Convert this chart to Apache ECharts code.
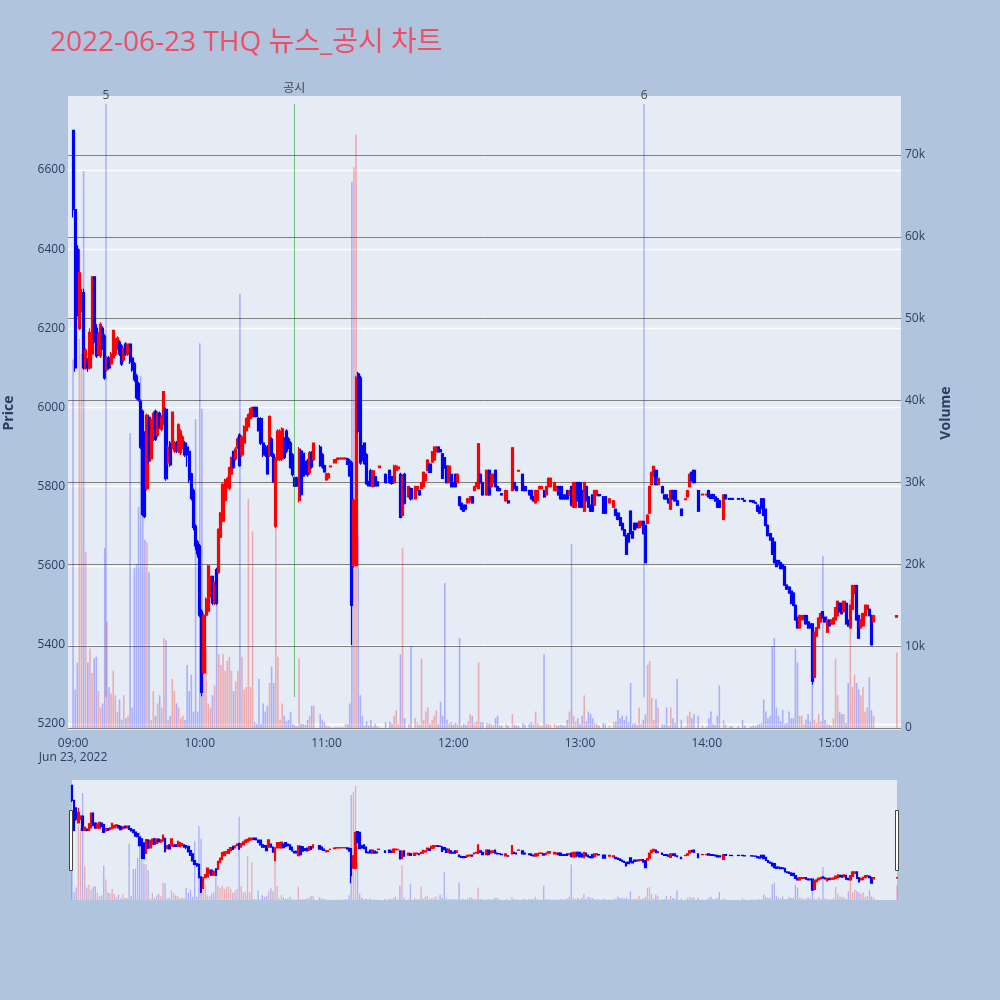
<!DOCTYPE html>
<html><head><meta charset="utf-8">
<script src="https://cdn.jsdelivr.net/npm/echarts@6/dist/echarts.min.js"></script>
<style>html,body{margin:0;padding:0;background:#B0C4DE}#c{width:1000px;height:1000px}</style>
</head><body><div id="c"></div><script>
// ---------------- DATA ----------------
const chartTitle = '2022-06-23 THQ 뉴스_공시 차트';
const sessionStart = '09:00';          // index 0 of the minute arrays
const dateLabel = 'Jun 23, 2022';
// one entry per minute from 09:00 to 15:30 (null = no trade)
const open = [
6700,6500,6400,6200,6250,6290,6100,6120,6100,6135,
6330,6200,6135,6130,6200,6180,6095,6125,6110,6125,
6135,6150,6165,6155,6120,6160,6135,6160,6125,6110,
6080,6060,6015,5990,5935,5795,5975,5870,5920,5990,
5930,5985,5945,5960,5995,5860,5910,5900,5890,5910,
5890,5885,5900,5910,5900,5889,5832,5790,5700,5660,
5650,5485,5330,5475,5485,5527,5573,5506,5590,5583,
5672,5713,5765,5800,5796,5832,5889,5870,5900,5930,
5880,5910,5941,5951,5972,5977,6000,6000,5972,5972,
5910,5900,5900,5880,5920,5880,5700,5868,5868,5870,
5920,5940,5920,5910,5880,5822,5822,5765,5890,5884,
5860,5865,5835,5885,5868,null,null,5900,5880,5853,
5817,5822,5850,null,5860,5868,5870,5870,5870,5870,
5870,5865,5860,5600,5600,6085,6075,5900,5910,5880,
5812,5840,5800,5825,5812,5848,null,null,5831,null,
5841,5825,5810,5841,5845,5831,5727,5831,null,5774,
5795,null,5769,5790,5790,5795,5800,5815,5841,5857,
5862,5867,5888,5900,5893,5883,5873,5852,5810,5831,
5810,5831,5810,5774,5758,5753,5753,5759,5764,5774,
5790,5800,5795,5831,5810,null,5779,5841,5800,5810,
5841,5800,5795,5782,null,5764,5764,null,5790,5810,
5800,5839,null,5831,5800,null,5790,5790,5774,5759,
5765,5795,5795,5790,5779,5800,5800,null,5790,5790,
5800,5800,5779,5779,5790,5779,5800,5748,5748,5810,
5810,5790,5738,5800,5774,5753,5779,5753,5779,5780,
null,5774,5774,null,5759,null,5748,5743,5733,5722,
5707,5691,5676,5681,5738,5686,5707,5707,5696,5702,
5712,5702,5707,5733,5805,5826,5841,5805,null,5800,
5779,5779,5769,5743,5790,5790,5764,null,5743,null,
5767,5774,5800,5836,5841,null,5790,null,5779,null,
5779,5790,5779,5780,5774,5769,5764,null,5717,5779,
null,5770,5770,null,null,5770,null,5770,5765,null,
null,5765,5764,5760,5753,5748,5769,5769,5743,5702,
5681,5670,5660,5613,5613,5608,5603,5598,5551,5546,
5536,5531,5500,5469,5443,5464,5464,5474,5458,5453,
5453,5318,5422,5443,5458,5484,5470,5432,5463,5453,
5453,5463,5474,5505,5505,5484,5505,5463,5443,5490,
5530,5550,5474,5443,5448,5474,5490,5490,5474,5458,
null,null,null,null,null,null,null,null,null,null,
5470];
const close = [
6500,6100,6250,6340,6290,6100,6145,6100,6190,6330,
6165,6130,6185,6210,6150,6075,6125,6100,6135,6195,
6170,6175,6135,6110,6150,6135,6160,6115,6095,6070,
6025,6020,5900,5730,5725,5980,5865,5970,5985,5920,
5985,5950,5975,6040,5820,5900,5855,5988,5910,5890,
5956,5940,5925,5880,5880,5817,5770,5697,5650,5630,
5475,5280,5475,5516,5600,5573,5506,5558,5505,5692,
5734,5806,5817,5820,5848,5874,5848,5895,5920,5853,
5925,5951,5972,5982,5998,6000,5977,5977,5941,5910,
5880,5880,5832,5977,5880,5812,5870,5940,5940,5946,
5874,5890,5900,5848,5830,5801,5801,5895,5780,5827,
5835,5830,5885,5850,5910,null,null,5853,5850,5837,
5832,5832,5852,null,5868,5872,5872,5872,5872,5872,
5856,5827,5500,5765,6075,5940,5860,5870,5858,5807,
5802,5802,5840,5802,5802,5852,null,null,5810,null,
5810,5808,5852,5852,5849,5722,5826,5758,null,5800,
5769,null,5800,5800,5779,5810,5836,5831,5867,5836,
5888,5900,5900,5888,5888,5821,5847,5810,5852,5800,
5800,5800,5831,5753,5743,5738,5743,5769,5774,5759,
5800,5810,5908,5810,5779,null,5841,5779,5831,5831,
5800,5790,5790,5779,null,5790,5759,null,5898,5795,
5790,5841,null,5790,5790,null,5779,5769,5764,5790,
5790,5800,5800,5774,5800,5821,5821,null,5810,5800,
5779,5769,5769,5769,5769,5790,5753,5810,5810,5764,
5748,5748,5810,5764,5748,5738,5738,5790,5790,5777,
null,5733,5733,null,5769,null,5764,5727,5717,5702,
5691,5676,5629,5660,5681,5670,5691,5696,5712,5712,
5681,5608,5728,5800,5836,5851,5805,5821,null,5784,
5769,5769,5759,5790,5769,5764,5753,null,5727,null,
5769,5790,5831,5815,5810,null,5738,null,5781,null,
5781,5774,5770,5770,5764,5748,5748,null,5779,5769,
null,5768,5768,null,null,5768,null,5768,5763,null,
null,5762,5760,5758,5738,5733,5745,5727,5702,5676,
5665,5629,5608,5598,5603,5593,5593,5551,5541,5531,
5505,5500,5463,5443,5474,5474,5474,5453,5443,5443,
5308,5432,5443,5468,5479,5468,5458,5463,5448,5463,
5468,5494,5510,5484,5479,5510,5453,5448,5500,5550,
5550,5463,5417,5463,5479,5500,5500,5474,5400,5474,
null,null,null,null,null,null,null,null,null,null,
5474];
const low = [
6480,6090,6230,6195,6240,6095,6095,6090,6095,6130,
6160,6125,6130,6125,6145,6070,6090,6095,6105,6120,
6130,6145,6130,6105,6115,6130,6130,6110,6090,6065,
6020,6015,5895,5725,5720,5790,5860,5865,5915,5915,
5925,5945,5940,5955,5815,5855,5850,5895,5885,5885,
5885,5880,5895,5875,5850,5810,5765,5690,5640,5620,
5470,5270,5325,5470,5480,5520,5500,5500,5500,5580,
5670,5710,5760,5795,5790,5830,5845,5865,5895,5850,
5875,5905,5940,5950,5970,5975,5975,5975,5940,5905,
5875,5875,5830,5875,5875,5810,5695,5865,5865,5865,
5870,5885,5895,5845,5825,5800,5800,5760,5775,5825,
5830,5825,5830,5845,5865,null,null,5850,5845,5835,
5815,5820,5850,null,5860,5868,5870,5870,5870,5870,
5855,5825,5400,5595,5600,5935,5855,5865,5855,5805,
5800,5800,5798,5800,5800,5848,null,null,5808,null,
5808,5805,5808,5840,5843,5720,5725,5755,null,5772,
5765,null,5767,5788,5777,5793,5798,5813,5839,5834,
5860,5865,5886,5886,5886,5819,5845,5808,5808,5798,
5798,5798,5808,5750,5740,5736,5741,5757,5762,5757,
5788,5798,5793,5808,5777,null,5777,5777,5798,5808,
5798,5788,5788,5777,null,5762,5757,null,5788,5793,
5788,5839,null,5788,5788,null,5777,5767,5762,5757,
5763,5793,5793,5772,5777,5798,5798,null,5788,5788,
5777,5767,5767,5767,5767,5777,5750,5746,5746,5762,
5746,5746,5736,5762,5746,5736,5736,5751,5777,5775,
null,5731,5731,null,5757,null,5746,5725,5715,5700,
5689,5674,5627,5658,5679,5668,5689,5694,5694,5700,
5679,5606,5705,5731,5803,5824,5803,5803,null,5782,
5767,5767,5757,5741,5767,5762,5751,null,5725,null,
5767,5772,5798,5813,5808,null,5736,null,5779,null,
5779,5772,5768,5768,5762,5746,5746,null,5715,5767,
null,5768,5768,null,null,5768,null,5768,5763,null,
null,5762,5760,5758,5736,5731,5743,5725,5700,5674,
5663,5627,5606,5596,5601,5591,5591,5549,5539,5529,
5503,5498,5461,5441,5441,5462,5462,5451,5441,5441,
5300,5316,5420,5441,5456,5466,5456,5430,5446,5451,
5451,5461,5472,5482,5477,5482,5451,5446,5441,5488,
5528,5461,5415,5441,5446,5472,5488,5472,5398,5456,
null,null,null,null,null,null,null,null,null,null,
5470];
const high = [
6700,6500,6410,6400,6300,6300,6150,6125,6200,6330,
6330,6210,6190,6215,6205,6185,6130,6130,6140,6195,
6175,6180,6170,6160,6150,6165,6160,6160,6130,6115,
6085,6065,6020,5995,5940,5985,5980,5975,5990,5995,
5990,5990,5980,6040,6000,5905,5915,5990,5915,5915,
5960,5945,5930,5915,5905,5890,5835,5795,5705,5665,
5655,5490,5480,5520,5600,5575,5575,5560,5595,5695,
5735,5810,5820,5825,5850,5875,5890,5900,5925,5935,
5930,5955,5975,5985,6000,6000,6000,6000,5975,5975,
5915,5905,5905,5980,5925,5885,5875,5945,5945,5950,
5925,5945,5925,5915,5885,5825,5825,5900,5895,5885,
5865,5870,5890,5890,5910,null,null,5905,5885,5855,
5835,5835,5852,null,5868,5872,5872,5872,5872,5872,
5872,5870,5865,5770,6080,6090,6080,5905,5910,5885,
5815,5845,5842,5828,5815,5852,null,null,5833,null,
5843,5827,5855,5855,5850,5835,5830,5835,null,5802,
5798,null,5802,5802,5792,5812,5838,5833,5869,5859,
5890,5902,5902,5902,5895,5885,5875,5854,5854,5833,
5812,5833,5833,5776,5760,5755,5755,5771,5776,5776,
5802,5812,5910,5833,5812,null,5843,5843,5833,5833,
5843,5802,5797,5784,null,5792,5766,null,5900,5812,
5802,5841,null,5833,5802,null,5792,5792,5776,5792,
5792,5802,5802,5792,5802,5823,5823,null,5812,5802,
5802,5802,5781,5781,5792,5792,5802,5812,5812,5812,
5812,5792,5812,5802,5776,5755,5781,5792,5792,5782,
null,5776,5776,null,5771,null,5766,5745,5735,5724,
5709,5693,5678,5683,5740,5688,5709,5709,5714,5714,
5714,5704,5730,5802,5838,5853,5843,5823,null,5802,
5781,5781,5771,5792,5792,5792,5766,null,5745,null,
5769,5792,5833,5838,5843,null,5792,null,5781,null,
5781,5792,5781,5782,5776,5771,5766,null,5781,5781,
null,5770,5770,null,null,5770,null,5770,5765,null,
null,5765,5764,5760,5755,5750,5771,5771,5745,5704,
5683,5672,5662,5615,5615,5610,5605,5600,5553,5548,
5538,5533,5502,5471,5476,5476,5476,5476,5460,5455,
5455,5434,5445,5470,5481,5486,5472,5465,5465,5465,
5470,5496,5512,5507,5507,5512,5507,5465,5502,5552,
5552,5552,5476,5465,5481,5502,5502,5492,5476,5476,
null,null,null,null,null,null,null,null,null,null,
5474];
const volume = [
45000,4700,8000,47500,45700,68000,21500,8000,9700,6700,
8500,8700,4500,2500,3000,22000,13000,5000,4200,7000,
4000,2000,3500,1000,4000,1200,1500,36000,2500,19500,
20000,27000,43000,26000,23000,22700,19000,1000,4500,1500,
3000,4000,2500,11000,10700,1000,1500,6000,4500,3000,
2500,1200,1500,1000,7700,4500,6500,2000,37700,2000,
47000,39000,9700,9700,3000,2500,4000,5200,15000,9000,
7700,9000,7000,8200,8700,7000,4500,5700,7000,53000,
8700,4700,5000,28000,5000,24000,700,500,6000,500,
3000,2000,2700,5500,7500,5500,24500,8700,1000,3000,
1500,800,1000,2000,500,300,200,8500,500,500,
400,1000,1500,2700,2700,null,null,1700,1000,700,
300,200,100,null,100,100,100,100,100,500,
500,3000,66700,68500,72500,23500,4000,1500,300,800,
300,1000,200,500,200,100,null,null,700,null,
800,500,1500,2200,500,9000,22000,1200,null,500,
10000,null,1200,700,400,8500,1000,2000,2500,500,
1000,1500,2200,500,3200,1500,17700,1000,500,700,
400,600,500,11000,300,500,400,800,1700,1500,
600,800,8000,700,700,null,600,500,500,400,
1200,1500,300,300,null,500,300,null,1700,400,
300,200,null,600,400,null,500,700,400,2000,
600,300,300,9000,500,500,400,null,500,300,
300,400,300,300,1000,2000,22500,1500,800,1200,
500,1500,4000,800,2000,1700,1200,600,500,300,
null,600,500,null,300,null,700,800,2200,1200,
1500,1000,1500,700,5500,500,600,400,2500,500,
1000,1700,7700,8200,3700,1000,3500,2500,null,500,
400,2500,300,2500,1200,600,6000,null,1000,null,
200,1500,2000,1200,1700,null,1500,null,300,null,
200,1200,2000,500,400,1500,5200,null,1000,400,
null,200,200,null,null,200,null,1000,300,null,
null,200,300,200,400,500,600,3500,2000,1200,
1500,10000,11000,2500,1500,800,2200,500,600,2000,
1200,1200,9700,8000,1500,1500,500,1000,1700,800,
5500,1000,600,1700,800,21000,1000,500,400,300,
1200,8500,4000,2000,1700,1700,600,5500,15700,5000,
6500,5500,4700,4000,5000,2000,2500,6200,2200,1500,
null,null,null,null,null,null,null,null,null,null,
9200];
const priceTicks = [5200, 5400, 5600, 5800, 6000, 6200, 6400, 6600];
const volumeTicks = [0, 10000, 20000, 30000, 40000, 50000, 60000, 70000];
const timeTicks = ['09:00', '10:00', '11:00', '12:00', '13:00', '14:00', '15:00'];
const newsTimes = ['09:15:36', '10:44:42', '13:30:24'];
const newsLabels = ['5', '공시', '6'];
const newsKinds = ['news', 'disclosure', 'news'];

// ---------------- HELPERS ----------------
function toMin(s) {
  const p = s.split(':').map(Number);
  const b = sessionStart.split(':').map(Number);
  return (p[0] * 60 + p[1] + (p[2] || 0) / 60) - (b[0] * 60 + b[1]);
}
function fmtMin(v) {
  const b = sessionStart.split(':').map(Number);
  const t = Math.round(v + b[0] * 60 + b[1]);
  return String(Math.floor(t / 60)).padStart(2, '0') + ':' + String(t % 60).padStart(2, '0');
}
const UP = '#ff0000', DOWN = '#0000ff';
const UP_VOL = 'rgba(255,0,0,0.28)', DOWN_VOL = 'rgba(0,0,255,0.26)';
const FONT = '"Open Sans","Noto Sans CJK KR",sans-serif';
const TXT = '#2a3f5f';

const candleData = [], volData = [];
for (let i = 0; i < open.length; i++) {
  if (open[i] == null) continue;
  candleData.push([i, open[i], close[i], low[i], high[i]]);
  volData.push({ value: [i, volume[i]], itemStyle: { color: close[i] >= open[i] ? UP_VOL : DOWN_VOL } });
}
const tickMins = timeTicks.map(toMin);
const newsLines = newsTimes.map((t, k) => {
  const m = toMin(t);
  const isDisc = newsKinds[k] === 'disclosure';
  return [
    { coord: [m, 5268], lineStyle: { color: isDisc ? 'rgba(0,140,0,0.5)' : 'rgba(40,70,235,0.33)', width: isDisc ? 1 : 1.5, type: 'solid' },
      label: { show: true, position: 'end', formatter: newsLabels[k], color: '#444', fontSize: 12, fontFamily: FONT, distance: isDisc ? 9 : 2 } },
    { coord: [m, 6767] }
  ];
});

const chart = echarts.init(document.getElementById('c'), null, { renderer: 'canvas' });
chart.setOption({
  animation: false,
  backgroundColor: '#B0C4DE',
  textStyle: { fontFamily: FONT },
  title: {
    text: chartTitle, left: 45, top: 24,
    textStyle: { fontSize: 28, fontWeight: 'normal', color: '#EF4E65', fontFamily: FONT }
  },
  grid: [
    { left: 68, top: 96, width: 833, height: 634, show: true, backgroundColor: '#E5ECF6', borderWidth: 0, containLabel: false, outerBoundsMode: 'none' },
    { left: 72, top: 780, width: 825, height: 120, show: true, backgroundColor: '#E5ECF6', borderWidth: 0, containLabel: false, outerBoundsMode: 'none' }
  ],
  xAxis: [
    { type: 'value', gridIndex: 0, min: -2.4, max: 392,
      axisLine: { show: false }, axisTick: { show: false, customValues: tickMins },
      splitLine: { show: false },
      axisLabel: { customValues: tickMins, color: TXT, fontSize: 12, margin: 7, lineHeight: 14,
        formatter: v => Math.abs(v) < 0.01 ? fmtMin(v) + '\n' + dateLabel : fmtMin(v) } },
    { type: 'value', gridIndex: 1, min: 0, max: 390, show: false }
  ],
  yAxis: [
    { type: 'value', gridIndex: 0, min: 5185, max: 6787, position: 'left',
      name: 'Price', nameLocation: 'middle', nameGap: 52, nameRotate: 90,
      nameTextStyle: { fontSize: 14, fontWeight: 'bold', color: TXT },
      axisLine: { show: false }, axisTick: { show: false, customValues: priceTicks },
      axisLabel: { customValues: priceTicks, color: TXT, fontSize: 12, margin: 3, formatter: v => String(v) },
      splitLine: { show: true, lineStyle: { color: '#ffffff', width: 1.3 } } },
    { type: 'value', gridIndex: 0, min: -250, max: 77200, position: 'right',
      name: 'Volume', nameLocation: 'middle', nameGap: 38, nameRotate: 90,
      nameTextStyle: { fontSize: 14, fontWeight: 'bold', color: TXT },
      axisLine: { show: false }, axisTick: { show: false, customValues: volumeTicks },
      axisLabel: { customValues: volumeTicks, color: TXT, fontSize: 12, margin: 4,
        formatter: v => v === 0 ? '0' : (v / 1000) + 'k' },
      splitLine: { show: true, lineStyle: { color: '#808080', width: 1 } } },
    { type: 'value', gridIndex: 1, min: 5177, max: 6771, show: false, splitLine: { show: false } },
    { type: 'value', gridIndex: 1, min: 0, max: 76300, show: false, splitLine: { show: false } }
  ],
  series: [
    { name: 'vol', type: 'bar', xAxisIndex: 0, yAxisIndex: 1, data: volData, barWidth: 1.6, z: 1 },
    { name: 'price', type: 'candlestick', xAxisIndex: 0, yAxisIndex: 0, data: candleData,
      encode: { x: 0, y: [1, 2, 3, 4] }, barWidth: 2.6, z: 3,
      itemStyle: { color: UP, color0: DOWN, borderColor: UP, borderColor0: DOWN, borderWidth: 1.2 },
      markLine: { silent: true, symbol: ['none', 'none'], z: 5, data: newsLines } },
    { name: 'vol-mini', type: 'bar', xAxisIndex: 1, yAxisIndex: 3, data: volData, barWidth: 1.3, z: 1 },
    { name: 'price-mini', type: 'candlestick', xAxisIndex: 1, yAxisIndex: 2, data: candleData,
      encode: { x: 0, y: [1, 2, 3, 4] }, barWidth: 2, z: 3,
      itemStyle: { color: UP, color0: DOWN, borderColor: UP, borderColor0: DOWN, borderWidth: 1.2 } }
  ],
  graphic: [
    { type: 'rect', shape: { x: 69.5, y: 810.5, width: 3, height: 60 }, style: { fill: '#fff', stroke: '#444', lineWidth: 1 }, z: 10 },
    { type: 'rect', shape: { x: 895.5, y: 810.5, width: 3, height: 60 }, style: { fill: '#fff', stroke: '#444', lineWidth: 1 }, z: 10 }
  ]
});
</script></body></html>
